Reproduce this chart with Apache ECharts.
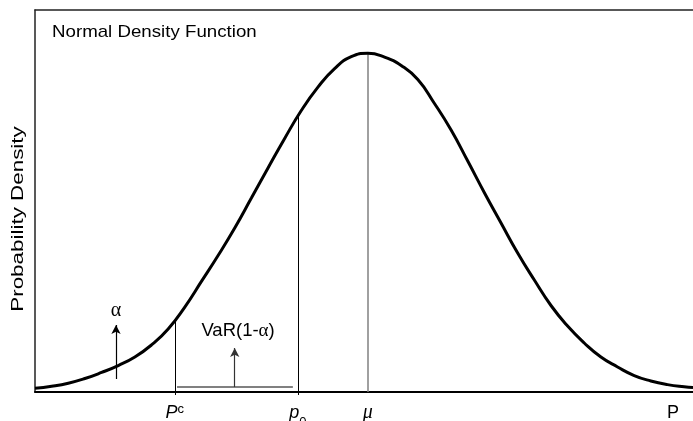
<!DOCTYPE html>
<html>
<head>
<meta charset="utf-8">
<script src="https://cdn.jsdelivr.net/npm/echarts@6/dist/echarts.min.js"></script>
<style>
  html, body { margin: 0; padding: 0; background: #fff; }
  #chart { width: 693px; height: 421px; }
</style>
</head>
<body>
<div id="chart"></div>
<script>
// Price axis in standardised units (mu = 0) and the density
const priceX = [-3.00, -2.85, -2.70, -2.55, -2.40, -2.25, -2.10, -1.95, -1.80, -1.65, -1.50, -1.35,
                -1.20, -1.05, -0.90, -0.75, -0.60, -0.45, -0.30, -0.15, 0.00, 0.15, 0.30, 0.45,
                0.60, 0.75, 0.90, 1.05, 1.20, 1.35, 1.50, 1.65, 1.80, 1.95, 2.10, 2.25, 2.40,
                2.55, 2.70, 2.85, 2.93];
const density = [0.0044, 0.0068, 0.0104, 0.0159, 0.0230, 0.0312, 0.0412, 0.0554, 0.0742, 0.1001, 0.1303, 0.1608,
                 0.1932, 0.2285, 0.2639, 0.2987, 0.3316, 0.3591, 0.3810, 0.3950, 0.3990, 0.3945, 0.3846, 0.3681,
                 0.3399, 0.3086, 0.2721, 0.2348, 0.1991, 0.1637, 0.1319, 0.1019, 0.0777, 0.0577, 0.0412, 0.0295, 0.0194,
                 0.0130, 0.0087, 0.0061, 0.0053];

// Marked prices: critical price P^c, current price p0, mean mu, and the axis name P
const criticalPrice = -1.74;
const currentPrice = -0.63;
const meanPrice = 0.00;
const axisNamePos = 2.75;
const tickValues = [criticalPrice, currentPrice, meanPrice, axisNamePos];
const tickTexts = ['{it|P}{sup|c}', '{it|p}{sub|0}', '{mu|μ}', '{up|P}'];

// Heights where the marker lines meet the curve
const criticalHeight = 0.0848;
const currentHeight = 0.3263;
const meanHeight = 0.3990;

// VaR bracket and the two arrows
const varBracket = { from: -1.72, to: -0.676, level: 0.0059 };
const alphaArrow = { x: -2.27, from: 0.0153, to: 0.0789 };
const varArrow = { x: -1.20, from: 0.0059, to: 0.0518 };
const alphaLabel = [-2.27, 0.0953];
const varLabel = [-1.17, 0.0719];

const curveData = priceX.map((x, i) => [x, density[i]]);
const FONT = 'Liberation Sans, Arial, sans-serif';
const SERIF = 'Liberation Serif, Times New Roman, serif';

const chart = echarts.init(document.getElementById('chart'), null, { renderer: 'canvas' });

chart.setOption({
  animation: false,
  backgroundColor: '#fff',
  grid: { left: 35, right: 0, top: 10, bottom: 29, containLabel: false, outerBoundsMode: 'none' },
  graphic: [{
    type: 'text',
    x: 52, y: 24,
    scaleX: 1.1,
    style: {
      text: 'Normal Density Function',
      fontFamily: FONT, fontSize: 17, fill: '#000',
      align: 'left', verticalAlign: 'top'
    }
  }, {
    type: 'text',
    x: 19, y: 219,
    rotation: Math.PI / 2,
    scaleX: 1.4,
    style: {
      text: 'Probability Density',
      fontFamily: FONT, fontSize: 16, fill: '#000',
      align: 'center', verticalAlign: 'middle'
    }
  }],
  xAxis: [{
    type: 'value',
    min: -3.0, max: 2.93,
    splitLine: { show: false },
    axisLine: { show: true, onZero: false, lineStyle: { color: '#000', width: 2 } },
    axisTick: { show: true, customValues: [criticalPrice, currentPrice], length: 3, lineStyle: { color: '#000', width: 1 } },
    axisLabel: {
      show: true,
      customValues: tickValues,
      margin: 11,
      formatter: (v) => {
        const i = tickValues.findIndex(t => Math.abs(t - v) < 1e-6);
        return i >= 0 ? tickTexts[i] : '';
      },
      rich: {
        it: { fontFamily: FONT, fontStyle: 'italic', fontSize: 18, color: '#000', lineHeight: 20 },
        up: { fontFamily: FONT, fontSize: 18, color: '#000', lineHeight: 20 },
        sup: { fontFamily: FONT, fontSize: 13, color: '#000', lineHeight: 12, verticalAlign: 'top' },
        sub: { fontFamily: FONT, fontSize: 13, color: '#000', lineHeight: 12, verticalAlign: 'bottom', padding: [0, 0, -6, 0] },
        mu: { fontFamily: SERIF, fontStyle: 'italic', fontSize: 20, color: '#000', lineHeight: 20 }
      }
    }
  }, {
    // upper frame edge
    type: 'value',
    position: 'top',
    min: -3.0, max: 2.93,
    splitLine: { show: false },
    axisLine: { show: true, onZero: false, lineStyle: { color: '#222', width: 1.5 } },
    axisTick: { show: false },
    axisLabel: { show: false }
  }],
  yAxis: {
    type: 'value',
    min: 0, max: 0.45,
    splitLine: { show: false },
    axisLine: { show: true, onZero: false, lineStyle: { color: '#222', width: 1.5 } },
    axisTick: { show: false },
    axisLabel: { show: false }
  },
  series: [{
    name: 'Density',
    type: 'line',
    data: curveData,
    smooth: 0.5,
    showSymbol: false,
    symbol: 'none',
    z: 5,
    lineStyle: { color: '#000', width: 3 },
    markLine: {
      silent: true,
      symbol: ['none', 'none'],
      label: { show: false },
      animation: false,
      data: [
        [{ coord: [criticalPrice, 0], lineStyle: { color: '#000', width: 1, type: 'solid' } }, { coord: [criticalPrice, criticalHeight] }],
        [{ coord: [currentPrice, 0], lineStyle: { color: '#000', width: 1, type: 'solid' } }, { coord: [currentPrice, currentHeight] }],
        [{ coord: [meanPrice, 0], lineStyle: { color: '#808080', width: 1.5, type: 'solid' } }, { coord: [meanPrice, meanHeight] }],
        [{ coord: [varBracket.from, varBracket.level], lineStyle: { color: '#808080', width: 2, type: 'solid' } }, { coord: [varBracket.to, varBracket.level] }]
      ]
    }
  }, {
    name: 'Arrows',
    type: 'line',
    data: [],
    markLine: {
      silent: true,
      symbol: ['none', 'arrow'],
      symbolSize: [7, 9],
      label: { show: false },
      animation: false,
      data: [
        [{ coord: [alphaArrow.x, alphaArrow.from], lineStyle: { color: '#000', width: 1.2, type: 'solid' }, itemStyle: { color: '#000' } }, { coord: [alphaArrow.x, alphaArrow.to] }],
        [{ coord: [varArrow.x, varArrow.from], lineStyle: { color: '#333', width: 1.2, type: 'solid' }, itemStyle: { color: '#000' } }, { coord: [varArrow.x, varArrow.to] }]
      ]
    }
  }, {
    name: 'Labels',
    type: 'scatter',
    symbolSize: 1,
    itemStyle: { color: 'rgba(255,255,255,0)' },
    silent: true,
    data: [
      { value: alphaLabel, label: { formatter: '{g|α}' } },
      { value: varLabel, label: { formatter: 'VaR(1-{g2|α})' } }
    ],
    label: {
      show: true,
      position: 'inside',
      fontFamily: FONT,
      fontSize: 18.5,
      color: '#000',
      opacity: 1,
      textBorderWidth: 0,
      rich: {
        g: { fontFamily: SERIF, fontSize: 20, color: '#000', textBorderWidth: 0 },
        g2: { fontFamily: SERIF, fontSize: 19, color: '#000', textBorderWidth: 0 }
      }
    }
  }]
});
</script>
</body>
</html>
